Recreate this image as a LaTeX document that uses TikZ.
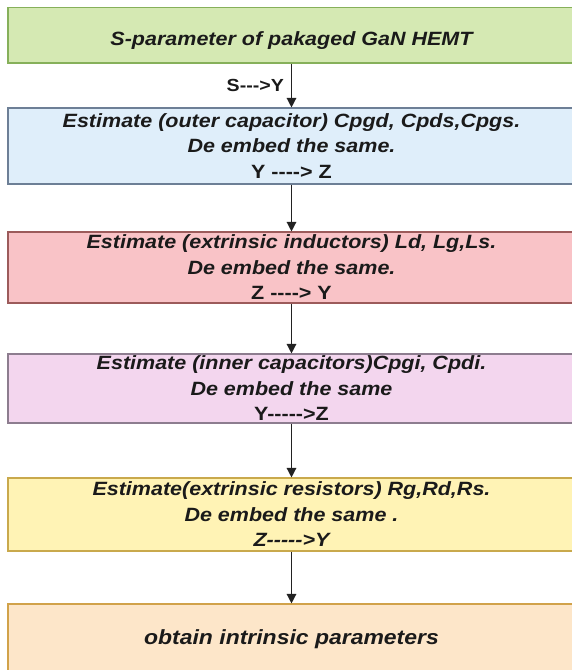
\documentclass[tikz,border=0pt]{standalone}
\usepackage{fontspec}
\setmainfont{Liberation Sans}
% slightly widened sans face for the flow chart texts; no TeX dash ligatures
\newfontfamily\flowfont[Ligatures=TeXOff,FakeStretch=1.12]{Liberation Sans}
\usetikzlibrary{arrows.meta}

\definecolor{greenfill}{HTML}{D5E9B3}
\definecolor{greenline}{HTML}{86B05A}
\definecolor{bluefill}{HTML}{DFEEFA}
\definecolor{blueline}{HTML}{6D7F96}
\definecolor{pinkfill}{HTML}{F9C3C7}
\definecolor{pinkline}{HTML}{9C5B5B}
\definecolor{lilacfill}{HTML}{F3D6EE}
\definecolor{lilacline}{HTML}{8D7D8F}
\definecolor{yellowfill}{HTML}{FFF3B5}
\definecolor{yellowline}{HTML}{C9A94C}
\definecolor{orangefill}{HTML}{FDE6C9}
\definecolor{orangeline}{HTML}{D1A24A}
\definecolor{inktext}{HTML}{1A1A1A}
\definecolor{arrowink}{HTML}{222222}

\tikzset{
  stage/.style={rectangle, line width=1.1pt, minimum width=567pt,
    inner sep=0pt, align=center, text=inktext,
    font=\flowfont\bfseries\itshape\fontsize{19.2}{25.5}\selectfont},
  flow/.style={draw=arrowink, line width=1.3pt,
    -{Triangle[length=9.5pt,width=9.5pt]}},
  convlabel/.style={text=inktext, inner sep=0pt,
    font=\flowfont\bfseries\fontsize{17.5}{20}\selectfont}
}

\begin{document}
\begin{tikzpicture}[x=1pt,y=-1pt]
\useasboundingbox (0,0) rectangle (572,670);

% title box; the tall declared height sets the text a little below the middle
\node[stage, fill=greenfill, draw=greenline, minimum height=55.5pt]
  (s1) at (291.5,35.25) {\raisebox{0pt}[20.5pt][0pt]{S-parameter of pakaged GaN HEMT}};

\node[stage, fill=bluefill, draw=blueline, minimum height=76pt]
  (s2) at (291.5,146) {Estimate (outer capacitor) Cpgd, Cpds,Cpgs.\\
  De embed the same.\\ {\upshape Y ----> Z}};

\node[stage, fill=pinkfill, draw=pinkline, minimum height=71pt]
  (s3) at (291.5,267.5) {Estimate (extrinsic inductors) Ld, Lg,Ls.\\
  De embed the same.\\ {\upshape Z ----> Y}};

\node[stage, fill=lilacfill, draw=lilacline, minimum height=69pt]
  (s4) at (291.5,388.5) {Estimate (inner capacitors)Cpgi, Cpdi.\\
  De embed the same\\ {\upshape Y----->Z}};

\node[stage, fill=yellowfill, draw=yellowline, minimum height=73pt]
  (s5) at (291.5,514.5) {Estimate(extrinsic resistors) Rg,Rd,Rs.\\
  De embed the same .\\ Z----->Y};

\node[stage, fill=orangefill, draw=orangeline, minimum height=70pt,
  font=\flowfont\bfseries\itshape\fontsize{20.5}{24}\selectfont]
  (s6) at (291.5,639) {obtain intrinsic parameters};

\draw[flow] (s1.south) -- node[convlabel, left, xshift=-7pt] {S--->Y} (s2.north);
\draw[flow] (s2.south) -- (s3.north);
\draw[flow] (s3.south) -- (s4.north);
\draw[flow] (s4.south) -- (s5.north);
\draw[flow] (s5.south) -- (s6.north);
\end{tikzpicture}
\end{document}
